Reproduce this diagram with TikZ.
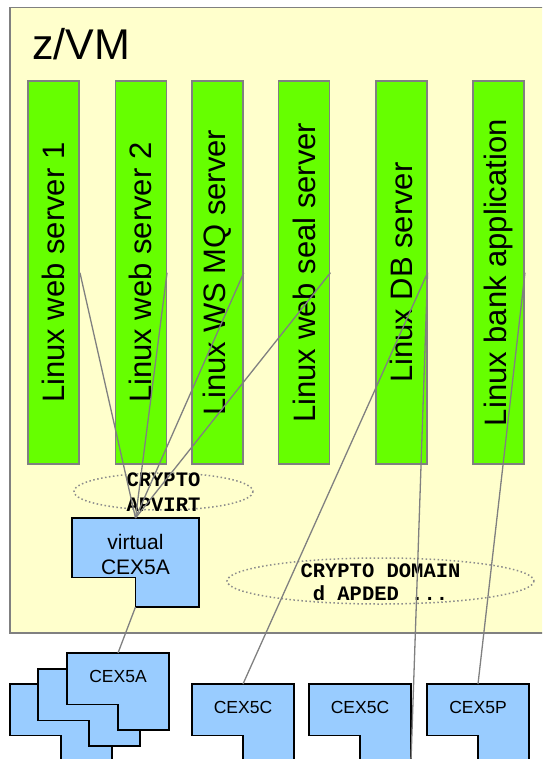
\documentclass[tikz,border=0pt]{standalone}
\usepackage{fontspec}
\setmainfont{Liberation Sans}
\setmonofont{Liberation Mono}

\definecolor{vmyellow}{HTML}{FFFFCC}
\definecolor{guestgreen}{HTML}{66FF00}
\definecolor{cardblue}{HTML}{99CCFF}
\definecolor{linkgray}{HTML}{808080}
\definecolor{dotgray}{HTML}{8C8C8C}

% L-shaped crypto card: [label opts]{name}{x}{y}{width}{height}{label}
\newcommand{\cexcard}[7][]{%
    \filldraw[cardbox] (#3,#4) -- ++(#5,0) -- ++(0,#6) -- ++({-#5/2},0)
        -- ++(0,{-#6/3}) -- ++({-#5/2},0) -- cycle;
    \coordinate (#2-top) at ({#3+#5/2},#4);
    \coordinate (#2-foot) at ({#3+#5/2},{#4+#6});
    \coordinate (#2-se) at ({#3+#5},{#4+#6});
    \node[cardtext,#1] (#2) at ({#3+#5/2},{#4+0.3*#6}) {#7};
}

\begin{document}
\begin{tikzpicture}[x=1pt,y=-1pt,
    guest/.style={draw=linkgray,fill=guestgreen,line width=1.5pt,
        minimum width=51pt,minimum height=383pt,inner sep=0pt,
        font=\fontsize{31}{36}\selectfont},
    cardbox/.style={fill=cardblue,draw=black,line width=1.5pt},
    cardtext/.style={font=\fontsize{17.5}{21}\selectfont,inner sep=0pt,align=center},
    link/.style={draw=linkgray,line width=1.3pt},
    domainline/.style={draw=dotgray,line width=1.5pt,dash pattern=on 1.5pt off 2.5pt},
    domaintext/.style={font=\fontsize{20.5}{25}\selectfont\ttfamily\bfseries,
        align=center,inner sep=0pt}]
    \useasboundingbox (0,0) rectangle (542,759);
    \clip (0,0) rectangle (542,759);

    % z/VM host
    \filldraw[fill=vmyellow,draw=linkgray,line width=1.5pt] (10,7.5) rectangle (560,633);
    \node[anchor=base west,inner sep=0pt,font=\fontsize{43}{50}\selectfont] (zvm) at (32,60) {z/VM};

    % guests
    \node[guest] (web1) at (53.7,272.7) {\rotatebox{90}{Linux web server 1}};
    \node[guest] (web2) at (140.8,272.7) {\rotatebox{90}{Linux web server 2}};
    \node[guest] (wsmq) at (217.5,272.7) {\rotatebox{90}{Linux WS MQ server}};
    \node[guest] (seal) at (304.2,272.7) {\rotatebox{90}{Linux web seal server}};
    \node[guest] (db) at (401.3,272.7) {\rotatebox{90}{Linux DB server}};
    \node[guest] (bank) at (498.7,272.7) {\rotatebox{90}{Linux bank application}};

    % crypto domains
    \draw[domainline] (163.5,491.5) ellipse [x radius=89.5, y radius=18.5];
    \node[domaintext] (apvirt) at (163.5,492) {CRYPTO\\APVIRT};
    \draw[domainline] (380.5,581) ellipse [x radius=153.5, y radius=23];
    \node[domaintext,font=\fontsize{20.5}{23}\selectfont\ttfamily\bfseries] (apded) at (380.5,582.5) {CRYPTO DOMAIN\\d APDED ...};

    % virtual card
    \cexcard[font=\fontsize{21}{25}\selectfont,yshift=-10pt]{vcex}{72}{518}{127}{89}{virtual\\CEX5A}

    % real cards, back to front
    \cexcard{a3}{10}{684}{102}{77}{}
    \cexcard{a2}{38}{669}{102}{77}{}
    \cexcard{a1}{67}{653}{102}{77}{CEX5A}
    \cexcard{c1}{192}{684}{102}{77}{CEX5C}
    \cexcard{c2}{309}{684}{102}{77}{CEX5C}
    \cexcard{p1}{427}{684}{102}{77}{CEX5P}

    % connections
    \draw[link] (web1.east) -- (vcex-top);
    \draw[link] (web2.east) -- (vcex-top);
    \draw[link] (wsmq.east) -- (vcex-top);
    \draw[link] (seal.east) -- (vcex-top);
    \draw[link] (vcex-foot) -- (a1-top);
    \draw[link] (db.east) -- (c1-top);
    \draw[link] (db.east) -- (c2-se);
    \draw[link] (bank.east) -- (p1-top);
\end{tikzpicture}
\end{document}
